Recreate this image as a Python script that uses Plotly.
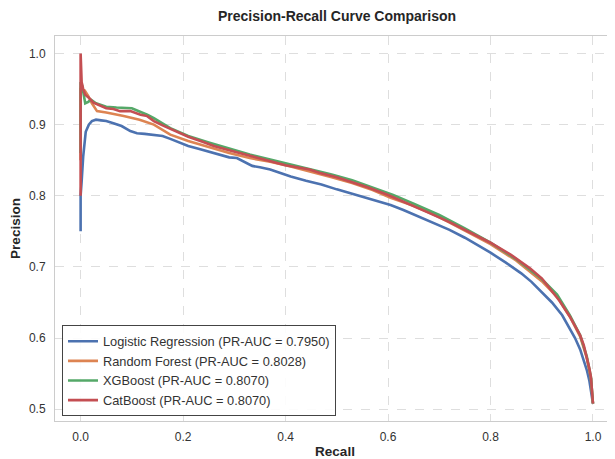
import plotly.graph_objects as go

# ---------------- data ----------------
lr_recall = [0, 0, 0.002, 0.005, 0.01, 0.016, 0.022, 0.03, 0.04, 0.05, 0.064, 0.08, 0.097,
             0.11, 0.125, 0.143, 0.16, 0.175, 0.19, 0.21, 0.23, 0.25, 0.27, 0.29, 0.305, 0.32,
             0.335, 0.35, 0.37, 0.39, 0.41, 0.44, 0.47, 0.5, 0.525, 0.55, 0.58, 0.605, 0.63,
             0.66, 0.69, 0.72, 0.75, 0.78, 0.8, 0.83, 0.86, 0.88, 0.9, 0.92, 0.94, 0.955,
             0.965, 0.975, 0.982, 0.988, 0.993, 0.996, 0.998, 1.0]
lr_precision = [0.75, 0.80, 0.82, 0.855, 0.89, 0.90, 0.905, 0.907, 0.906, 0.905, 0.902, 0.898,
                0.891, 0.888, 0.887, 0.886, 0.884, 0.880, 0.876, 0.870, 0.866, 0.862, 0.858,
                0.854, 0.853, 0.848, 0.842, 0.840, 0.837, 0.832, 0.827, 0.821, 0.816, 0.809,
                0.804, 0.799, 0.793, 0.787, 0.780, 0.771, 0.762, 0.752, 0.741, 0.729, 0.720,
                0.706, 0.691, 0.679, 0.665, 0.650, 0.632, 0.614, 0.600, 0.584, 0.570, 0.555,
                0.540, 0.528, 0.518, 0.508]

rf_recall = [0, 0, 0.003, 0.008, 0.015, 0.022, 0.032, 0.05, 0.084, 0.115, 0.143, 0.175, 0.21,
             0.25, 0.29, 0.33, 0.37, 0.41, 0.45, 0.49, 0.53, 0.57, 0.605, 0.65, 0.7, 0.75, 0.8,
             0.85, 0.9, 0.93, 0.955, 0.975, 0.988, 0.996, 1.0]
rf_precision = [0.85, 0.95, 0.95, 0.948, 0.94, 0.93, 0.919, 0.917, 0.912, 0.907, 0.900, 0.886,
                0.877, 0.868, 0.860, 0.853, 0.848, 0.841, 0.834, 0.826, 0.818, 0.808, 0.797,
                0.786, 0.770, 0.751, 0.732, 0.709, 0.680, 0.658, 0.630, 0.602, 0.572, 0.543,
                0.508]

xgb_recall = [0, 0, 0.003, 0.006, 0.009, 0.015, 0.02, 0.03, 0.05, 0.07, 0.1, 0.13, 0.143,
              0.175, 0.21, 0.25, 0.29, 0.33, 0.37, 0.41, 0.45, 0.49, 0.53, 0.57, 0.61, 0.65,
              0.7, 0.75, 0.8, 0.85, 0.9, 0.93, 0.955, 0.975, 0.988, 0.996, 1.0]
xgb_precision = [0.86, 0.96, 0.955, 0.94, 0.93, 0.932, 0.935, 0.93, 0.925, 0.924, 0.923, 0.914,
                 0.909, 0.895, 0.884, 0.875, 0.866, 0.858, 0.851, 0.844, 0.838, 0.830, 0.822,
                 0.812, 0.801, 0.789, 0.773, 0.754, 0.734, 0.711, 0.683, 0.661, 0.632, 0.604,
                 0.574, 0.545, 0.508]

cat_recall = [0, 0, 0.002, 0.005, 0.009, 0.016, 0.025, 0.035, 0.05, 0.064, 0.077, 0.097, 0.117,
              0.13, 0.143, 0.16, 0.175, 0.19, 0.21, 0.238, 0.26, 0.29, 0.32, 0.35, 0.37, 0.4,
              0.447, 0.467, 0.5, 0.525, 0.56, 0.6, 0.64, 0.68, 0.72, 0.76, 0.8, 0.84, 0.877,
              0.9, 0.916, 0.935, 0.955, 0.965, 0.975, 0.982, 0.988, 0.993, 0.996, 0.998, 1.0]
cat_precision = [0.80, 1.0, 0.96, 0.95, 0.942, 0.938, 0.931, 0.928, 0.923, 0.922, 0.919, 0.919,
                 0.914, 0.912, 0.905, 0.899, 0.894, 0.889, 0.883, 0.876, 0.870, 0.864, 0.858,
                 0.853, 0.849, 0.843, 0.837, 0.832, 0.826, 0.820, 0.812, 0.801, 0.789, 0.776,
                 0.763, 0.748, 0.734, 0.717, 0.698, 0.684, 0.670, 0.652, 0.630, 0.617, 0.604,
                 0.590, 0.574, 0.557, 0.545, 0.528, 0.508]

model_names = ["Logistic Regression", "Random Forest", "XGBoost", "CatBoost"]
pr_auc = [0.7950, 0.8028, 0.8070, 0.8070]
colors = ["#4C72B0", "#DD8452", "#55A868", "#C44E52"]

x_ticks = [0.0, 0.2, 0.4, 0.6, 0.8, 1.0]
y_ticks = [0.5, 0.6, 0.7, 0.8, 0.9, 1.0]

series = [(lr_recall, lr_precision), (rf_recall, rf_precision),
          (xgb_recall, xgb_precision), (cat_recall, cat_precision)]

fig = go.Figure()
for (rx, py), name, auc, col in zip(series, model_names, pr_auc, colors):
    fig.add_trace(go.Scatter(
        x=rx, y=py, mode="lines",
        name=f"{name} (PR-AUC = {auc:.4f})",
        line=dict(color=col, width=2.6),
    ))

# page body has an 8px margin, so the figure is 8px smaller in each direction
W, H = 607, 451
font_family = "Liberation Sans, Arial, sans-serif"
fig.update_layout(
    width=W, height=H,
    margin=dict(l=47, r=0, t=28, b=38),
    paper_bgcolor="white", plot_bgcolor="white",
    font=dict(family=font_family, size=12, color="#333333"),
    title=dict(text="<b>Precision-Recall Curve Comparison</b>",
               x=(329 / W), xanchor="center", y=1 - 8 / H, yanchor="middle",
               font=dict(size=14, color="#262626")),
    legend=dict(
        x=0.0125, y=0.012, xanchor="left", yanchor="bottom",
        bgcolor="rgba(255,255,255,0.9)", bordercolor="#444444", borderwidth=1,
        font=dict(size=12.8, color="#333333"),
        tracegroupgap=0, entrywidth=275,
    ),
    showlegend=True,
)
fig.update_xaxes(
    range=[-0.05, 1.043], tickvals=x_ticks, ticktext=[f"{v:.1f}" for v in x_ticks],
    showgrid=True, gridcolor="#dedede", griddash="dash", gridwidth=0.8,
    showline=True, linecolor="#cccccc", linewidth=1, mirror=True,
    ticks="outside", ticklen=5, tickcolor="rgba(0,0,0,0)",
    zeroline=False, automargin=False,
    title=dict(text="<b>Recall</b>", font=dict(size=13.5, color="#262626"), standoff=4),
)
fig.update_yaxes(
    range=[0.4834, 1.0246], tickvals=y_ticks, ticktext=[f"{v:.1f}" for v in y_ticks],
    showgrid=True, gridcolor="#dedede", griddash="dash", gridwidth=0.8,
    showline=True, linecolor="#cccccc", linewidth=1, mirror=True,
    ticks="outside", ticklen=6, tickcolor="rgba(0,0,0,0)",
    zeroline=False, automargin=False,
    title=dict(text="<b>Precision</b>", font=dict(size=13.5, color="#262626"), standoff=6),
)

fig.write_html("out.html")
